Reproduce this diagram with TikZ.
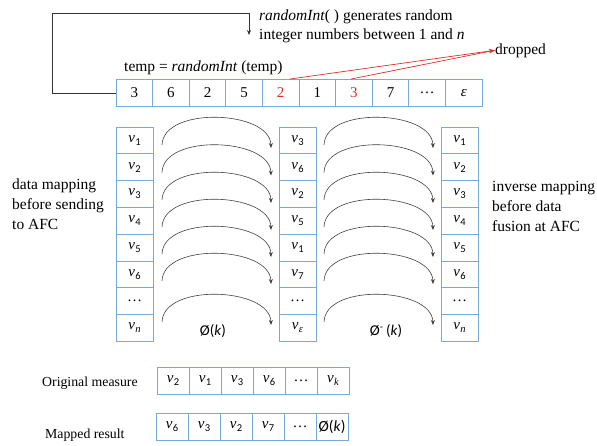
\documentclass[tikz,border=0pt]{standalone}
\usepackage{fontspec}
\setmainfont{Liberation Serif}
\newfontfamily\tms{Liberation Serif}
\newfontfamily\calib{Carlito}
\usetikzlibrary{arrows.meta,calc}

\definecolor{cellblue}{RGB}{120,170,215}
\definecolor{dropred}{RGB}{215,50,40}

% italic v with an upright sans subscript
\newcommand{\vsub}[1]{{\tms\itshape v}\kern0.3pt\raisebox{-0.45ex}{\calib\fontsize{10.5}{10.5}\selectfont #1}}
\newcommand{\vsubi}[1]{{\tms\itshape v}\kern0.3pt\raisebox{-0.45ex}{\tms\fontsize{10.5}{10.5}\selectfont\itshape #1}}

\tikzset{
  cell/.style={draw=cellblue, line width=0.9pt, minimum width=36.6pt, minimum height=27pt,
    inner sep=0pt, font=\tms\fontsize{15}{15}\selectfont},
  vcell/.style={draw=cellblue, line width=0.9pt, minimum width=37pt, minimum height=26.8pt,
    inner sep=0pt, font=\tms\fontsize{15}{15}\selectfont},
  bcell/.style={draw=cellblue, line width=0.9pt, minimum width=32pt, minimum height=27pt,
    inner sep=0pt, font=\tms\fontsize{15}{15}\selectfont},
  txt/.style={inner sep=0pt, font=\tms\fontsize{15.5}{18}\selectfont, align=left},
  smalltxt/.style={inner sep=0pt, font=\tms\fontsize{13.8}{16}\selectfont},
  maparc/.style={draw=black!75, line width=0.6pt, -{Stealth[length=5pt,width=4pt]}},
  loop/.style={draw=black!80, line width=0.7pt, -{Stealth[length=5pt,width=4pt]}},
  droparrow/.style={draw=dropred, line width=0.7pt, -{Stealth[length=6pt,width=4pt]}},
}

\begin{document}
\begin{tikzpicture}[x=1pt,y=-1pt]
\useasboundingbox (0,0) rectangle (597,445);

% ---- sequence of random indices ----
\foreach \v [count=\i] in {3,6,2,5,{\color{dropred}2},1,{\color{dropred}3},7,\dots,{\itshape ε}} {
  \node[cell] (t\i) at ({116+36.6*(\i-0.5)},93) {\v};
}

\node[txt, anchor=base west] (gen1) at (259,20) {\textit{randomInt}( ) generates random};
\node[txt, anchor=base west] (gen2) at (259,39) {integer numbers between 1 and \textit{n}};
\node[txt, anchor=base west] (tmp) at (124,71) {temp = \textit{randomInt} (temp)};
\node[txt, anchor=base west] (drop) at (495,54) {dropped};

% feedback loop from the sequence back to the generator
\coordinate (gin) at (249,35);
\draw[loop] (t1.west) -- ++(-63,0) |- (249,13) -- (gin);
\draw[droparrow] ($(t5.north)+(9,0)$) -- (drop.west);
\draw[droparrow] ($(t7.north)+(-3,0)$) -- (drop.west);

% ---- three columns ----
\foreach \v [count=\i] in {\vsub{1},\vsub{2},\vsub{3},\vsub{4},\vsub{5},\vsub{6},\dots,\vsubi{n}} {
  \node[vcell] (L\i) at (134.5,{127+26.8*(\i-0.5)}) {\v};
}
\foreach \v [count=\i] in {\vsub{3},\vsub{6},\vsub{2},\vsub{5},\vsub{1},\vsub{7},\dots,\vsubi{ε}} {
  \node[vcell] (M\i) at (297.5,{127+26.8*(\i-0.5)}) {\v};
}
\foreach \v [count=\i] in {\vsub{1},\vsub{2},\vsub{3},\vsub{4},\vsub{5},\vsub{6},\dots,\vsubi{n}} {
  \node[vcell] (R\i) at (459.5,{127+26.8*(\i-0.5)}) {\v};
}

% ---- mapping arcs ----
\foreach \p in {117,144.5,172,199,226,253,294} {
  \draw[maparc] (162,\p+28) .. controls (163,\p-11) and (270,\p-7) .. (271,\p+31);
  \draw[maparc] (324,\p+28) .. controls (325,\p-11) and (432,\p-7) .. (433,\p+31);
}

\node[inner sep=0pt, font=\calib\fontsize{15}{15}\selectfont] (phi) at (213,331) {Ø(\textit{k})};
\node[inner sep=0pt, font=\calib\fontsize{15}{15}\selectfont] (phiinv) at (386,331) {Ø\textsuperscript{-}\,(\textit{k})};

\node[txt, anchor=base west] (dm) at (12,189) {data mapping};
\node[txt, anchor=base west] (dm2) at (12,209) {before sending};
\node[txt, anchor=base west] (dm3) at (12,229) {to AFC};

\node[txt, anchor=base west] (im) at (492,191) {inverse mapping};
\node[txt, anchor=base west] (im2) at (492,211) {before data};
\node[txt, anchor=base west] (im3) at (492,231) {fusion at AFC};

% ---- example vectors ----
\node[smalltxt, anchor=base west] (om) at (42,386) {Original measure};
\foreach \v [count=\i] in {\vsub{2},\vsub{1},\vsub{3},\vsub{6},\dots,\vsubi{k}} {
  \node[bcell] (o\i) at ({157+32*(\i-0.5)},380.5) {\v};
}
\node[smalltxt, anchor=base west] (mr) at (45,438) {Mapped result};
\foreach \v [count=\i] in {\vsub{6},\vsub{3},\vsub{2},\vsub{7},\dots,{\calib\fontsize{15.5}{15.5}\selectfont Ø(\textit{k})}} {
  \node[bcell] (m\i) at ({156+32*(\i-0.5)},427) {\v};
}
\end{tikzpicture}
\end{document}
